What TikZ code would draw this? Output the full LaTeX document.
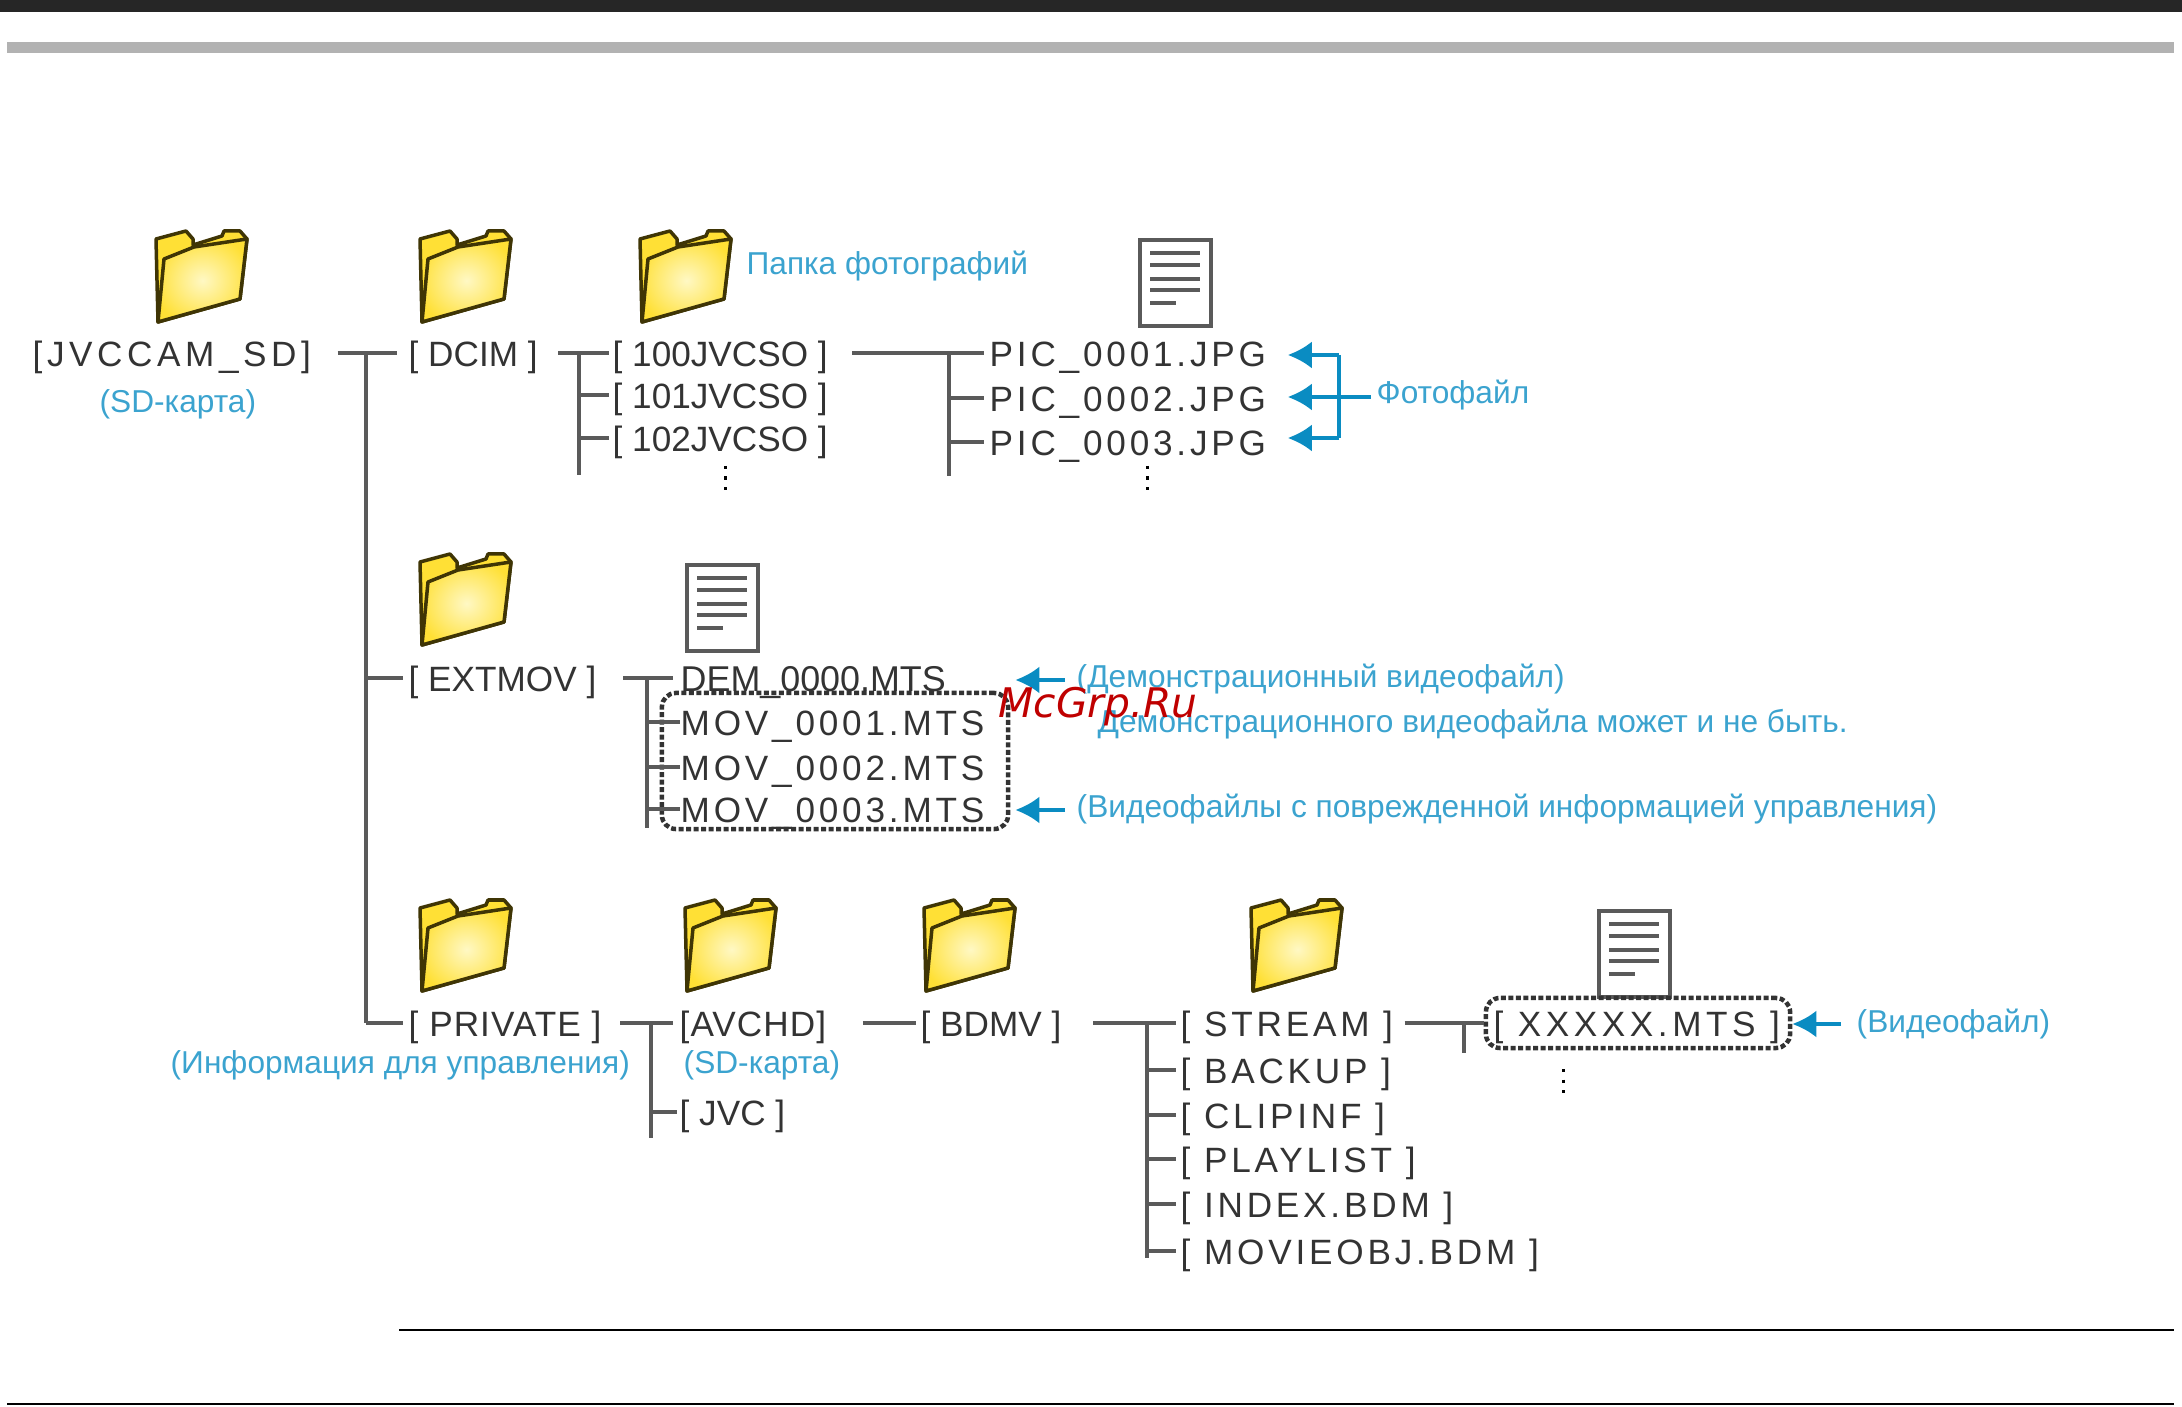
\documentclass[tikz,border=0pt]{standalone}
\usepackage{fontspec}
\usetikzlibrary{arrows.meta}
\setmainfont{Liberation Sans}
\newfontfamily\spacedfont[LetterSpace=10.8]{Liberation Sans}
\newfontfamily\widefont[LetterSpace=13]{Liberation Sans}
\newfontfamily\slightfont[LetterSpace=3]{Liberation Sans}
\newfontfamily\wmfont{DejaVu Sans}
\definecolor{inkgray}{HTML}{333333}
\definecolor{linegray}{HTML}{5A5A5A}
\definecolor{capblue}{HTML}{3BA3CF}
\definecolor{arrowblue}{HTML}{0A8CC2}
\definecolor{folderedge}{HTML}{3F3505}
\definecolor{folderyellow}{HTML}{FFE035}
\definecolor{folderlight}{HTML}{FFF8C4}
\pgfdeclareradialshading{folderglow}{\pgfpoint{0bp}{0bp}}{color(0bp)=(folderlight); color(28bp)=(folderyellow); color(50bp)=(folderyellow)}
\tikzset{
  labelbox/.style={anchor=west,inner sep=0pt,text height=10pt,text depth=2.2pt},
  filetext/.style={labelbox,text=inkgray,font=\fontsize{10}{12}\selectfont},
  filespaced/.style={labelbox,text=inkgray,font=\fontsize{10}{12}\selectfont\spacedfont},
  filewide/.style={labelbox,text=inkgray,font=\fontsize{10}{12}\selectfont\widefont},
  fileslight/.style={labelbox,text=inkgray,font=\fontsize{10}{12}\selectfont\slightfont},
  caption/.style={labelbox,text height=8.6pt,text=capblue,font=\fontsize{9}{11}\selectfont},
  conn/.style={draw=linegray,line width=0.032cm},
  arr/.style={draw=arrowblue,line width=0.035cm,-{Latex[length=0.24cm,width=0.27cm]}},
  bracket/.style={draw=arrowblue,line width=0.035cm},
  dashbox/.style={draw=inkgray,line width=0.045cm,dash pattern=on 0.05cm off 0.025cm,rounded corners=0.14cm,inner sep=0pt},
  vdotline/.style={draw=black,line width=0.03cm,dash pattern=on 0.03cm off 0.075cm},
  folder/.pic={
    \path[draw=folderedge,line width=0.035cm,fill=folderyellow,line join=round]
      (0,8)--(30,0)--(37,8)--(37,14)--(66,5)--(68,0)--(84,0)--(91,8)--(84,68)--(2,91)--cycle;
    \path[draw=folderedge,line width=0.035cm,shading=folderglow,line join=round]
      (8,28)--(38,16)--(91,8)--(84,68)--(2,91)--cycle;
  },
  docicon/.pic={
    \path[draw=linegray,line width=0.04cm,fill=white] (0,0) rectangle (71,86);
    \foreach \yy in {13,25,39,50}{\path[draw=linegray,line width=0.04cm] (10,\yy)--(60,\yy);}
    \path[draw=linegray,line width=0.04cm] (10,63)--(36,63);
  }
}
\begin{document}
\begin{tikzpicture}[x=0.01cm,y=-0.01cm]
\useasboundingbox (0,0) rectangle (2182,1407);
% page rules
\fill[fill=black!85] (0,0) rectangle (2182,12);
\fill[fill=black!30] (7,42) rectangle (2174,53);
\coordinate (ruleAa) at (399,1330); \coordinate (ruleAb) at (2174,1330);
\coordinate (ruleBa) at (7,1404); \coordinate (ruleBb) at (2174,1404);
\draw[black,line width=0.025cm] (ruleAa) -- (ruleAb);
\draw[black,line width=0.025cm] (ruleBa) -- (ruleBb);
% folders
\pic at (156,231) {folder};
\pic at (420,231) {folder};
\pic at (640,231) {folder};
\pic at (420,554) {folder};
\pic at (420,900) {folder};
\pic at (685,900) {folder};
\pic at (924,900) {folder};
\pic at (1251,900) {folder};
% documents
\pic at (1140,240) {docicon};
\pic at (687,565) {docicon};
\pic at (1599,911) {docicon};
% first level
\node[filewide] (root) at (32,353) {[JVCCAM\_SD]};
\node[caption] (rootcap) at (99,401) {(SD-карта)};
\node[filetext] (dcim) at (408,353) {[ DCIM ]};
\node[filetext] (extmov) at (408,678) {[ EXTMOV ]};
\node[fileslight] (private) at (408,1023) {[ PRIVATE ]};
\node[caption] (privcap) at (170,1062) {(Информация для управления)};
% DCIM
\node[filetext] (d100) at (612,353) {[ 100JVCSO ]};
\node[filetext] (d101) at (612,395) {[ 101JVCSO ]};
\node[filetext] (d102) at (612,438) {[ 102JVCSO ]};
\node[caption] (photofolder) at (746,263) {Папка фотографий};
\node[filespaced] (pic1) at (989,353) {PIC\_0001.JPG};
\node[filespaced] (pic2) at (989,398) {PIC\_0002.JPG};
\node[filespaced] (pic3) at (989,442) {PIC\_0003.JPG};
\node[caption] (photofile) at (1376,392) {Фотофайл};
% EXTMOV
\node[filetext,font=\fontsize{10.2}{12}\selectfont] (dem) at (680,678) {DEM\_0000.MTS};
\node[filespaced] (mov1) at (680,722) {MOV\_0001.MTS};
\node[filespaced] (mov2) at (680,767) {MOV\_0002.MTS};
\node[filespaced] (mov3) at (680,809) {MOV\_0003.MTS};
\node[dashbox,minimum width=3.46cm,minimum height=1.36cm] (movbox) at (835,761) {};
\node[caption] (demcap) at (1076,676) {(Демонстрационный видеофайл)};
\node[caption] (demnote) at (1097,721) {Демонстрационного видеофайла может и не быть.};
\node[caption] (movcap) at (1076,806) {(Видеофайлы с поврежденной информацией управления)};
% PRIVATE
\node[fileslight] (avchd) at (679,1023) {[AVCHD]};
\node[caption] (avchdcap) at (683,1062) {(SD-карта)};
\node[filetext] (jvc) at (679,1112) {[ JVC ]};
\node[filetext] (bdmv) at (920,1023) {[ BDMV ]};
\node[filespaced] (stream) at (1180,1023) {[ STREAM ]};
\node[filespaced] (backup) at (1180,1070) {[ BACKUP ]};
\node[filespaced] (clipinf) at (1180,1115) {[ CLIPINF ]};
\node[filespaced] (playlist) at (1180,1159) {[ PLAYLIST ]};
\node[filespaced] (index) at (1180,1204) {[ INDEX.BDM ]};
\node[filespaced] (movieobj) at (1180,1251) {[ MOVIEOBJ.BDM ]};
\node[filewide] (xxxxx) at (1493,1023) {[ XXXXX.MTS ]};
\node[dashbox,minimum width=3.04cm,minimum height=0.5cm] (xbox) at (1638,1023) {};
\node[caption] (xcap) at (1856,1021) {(Видеофайл)};
% trunks
\coordinate (t0) at (366,353); \coordinate (t0e) at (366,1023);
\coordinate (t1) at (579,353); \coordinate (t1e) at (579,475);
\coordinate (t2) at (949,353); \coordinate (t2e) at (949,476);
\coordinate (t3) at (647,678); \coordinate (t3e) at (647,828);
\coordinate (t4) at (651,1023); \coordinate (t4e) at (651,1138);
\coordinate (t5) at (1147,1023); \coordinate (t5e) at (1147,1258);
\coordinate (t6) at (1464,1023); \coordinate (t6e) at (1464,1053);
\draw[conn] (t0) -- (t0e);
\draw[conn] (t1) -- (t1e);
\draw[conn] (t2) -- (t2e);
\draw[conn] (t3) -- (t3e);
\draw[conn] (t4) -- (t4e);
\draw[conn] (t5) -- (t5e);
\draw[conn] (t6) -- (t6e);
\draw[conn,shorten <=0.26cm,shorten >=0.11cm] (root.east) -- (dcim.west);
\draw[conn,shorten >=0.05cm] (t0 |- extmov.west) -- (extmov.west);
\draw[conn,shorten >=0.05cm] (t0e) -- (private.west);
\draw[conn,shorten <=0.2cm,shorten >=0.03cm] (dcim.east) -- (d100.west);
\draw[conn,shorten >=0.03cm] (t1 |- d101.west) -- (d101.west);
\draw[conn,shorten >=0.03cm] (t1 |- d102.west) -- (d102.west);
\draw[conn,shorten <=0.24cm,shorten >=0.05cm] (d100.east) -- (pic1.west);
\draw[conn,shorten >=0.05cm] (t2 |- pic2.west) -- (pic2.west);
\draw[conn,shorten >=0.05cm] (t2 |- pic3.west) -- (pic3.west);
\draw[conn,shorten <=0.26cm,shorten >=0.07cm] (extmov.east) -- (dem.west);
\draw[conn] (t3 |- mov1.west) -- (mov1.west);
\draw[conn] (t3 |- mov2.west) -- (mov2.west);
\draw[conn] (t3 |- mov3.west) -- (mov3.west);
\draw[conn,shorten <=0.18cm,shorten >=0.06cm] (private.east) -- (avchd.west);
\draw[conn,shorten >=0.02cm] (t4 |- jvc.west) -- (jvc.west);
\draw[conn,shorten <=0.36cm,shorten >=0.04cm] (avchd.east) -- (bdmv.west);
\draw[conn,shorten <=0.31cm,shorten >=0.04cm] (bdmv.east) -- (stream.west);
\draw[conn,shorten >=0.04cm] (t5 |- backup.west) -- (backup.west);
\draw[conn,shorten >=0.04cm] (t5 |- clipinf.west) -- (clipinf.west);
\draw[conn,shorten >=0.04cm] (t5 |- playlist.west) -- (playlist.west);
\draw[conn,shorten >=0.04cm] (t5 |- index.west) -- (index.west);
\draw[conn,shorten >=0.04cm] (t5 |- movieobj.west) -- (movieobj.west);
\draw[conn,shorten <=0.11cm] (stream.east) -- (xbox.west);
% ellipses
\coordinate (da) at (725,466); \coordinate (db) at (725,492);
\coordinate (dc) at (1147,466); \coordinate (dd) at (1147,492);
\coordinate (de) at (1563,1069); \coordinate (df) at (1563,1097);
\draw[vdotline] (da) -- (db);
\draw[vdotline] (dc) -- (dd);
\draw[vdotline] (de) -- (df);
% blue markers
\coordinate (brTop) at (1339,355); \coordinate (brBot) at (1339,438);
\coordinate (brMid) at (1339,397);
\draw[bracket] (brTop) -- (brBot);
\draw[bracket,shorten >=0.05cm] (brMid) -- (photofile.west |- brMid);
\draw[arr,shorten >=0.21cm] (brTop) -- (pic1.east |- brTop);
\draw[arr,shorten >=0.21cm] (brMid) -- (pic2.east |- brMid);
\draw[arr,shorten >=0.21cm] (brBot) -- (pic3.east |- brBot);
\draw[arr,shorten <=0.11cm,shorten >=0.05cm] (demcap.west) ++(0,4) -- (movbox.east |- 0,680);
\draw[arr,shorten <=0.11cm,shorten >=0.05cm] (movcap.west) ++(0,4) -- (movbox.east |- 0,810);
\draw[arr,shorten <=0.15cm] (xcap.west) ++(0,3) -- (xbox.east |- 0,1024);
% watermark
\node[anchor=west,inner sep=0pt,text=red!75!black,font=\fontsize{11.6}{14}\selectfont\wmfont\itshape] (wm) at (998,707) {McGrp.Ru};
\end{tikzpicture}
\end{document}
